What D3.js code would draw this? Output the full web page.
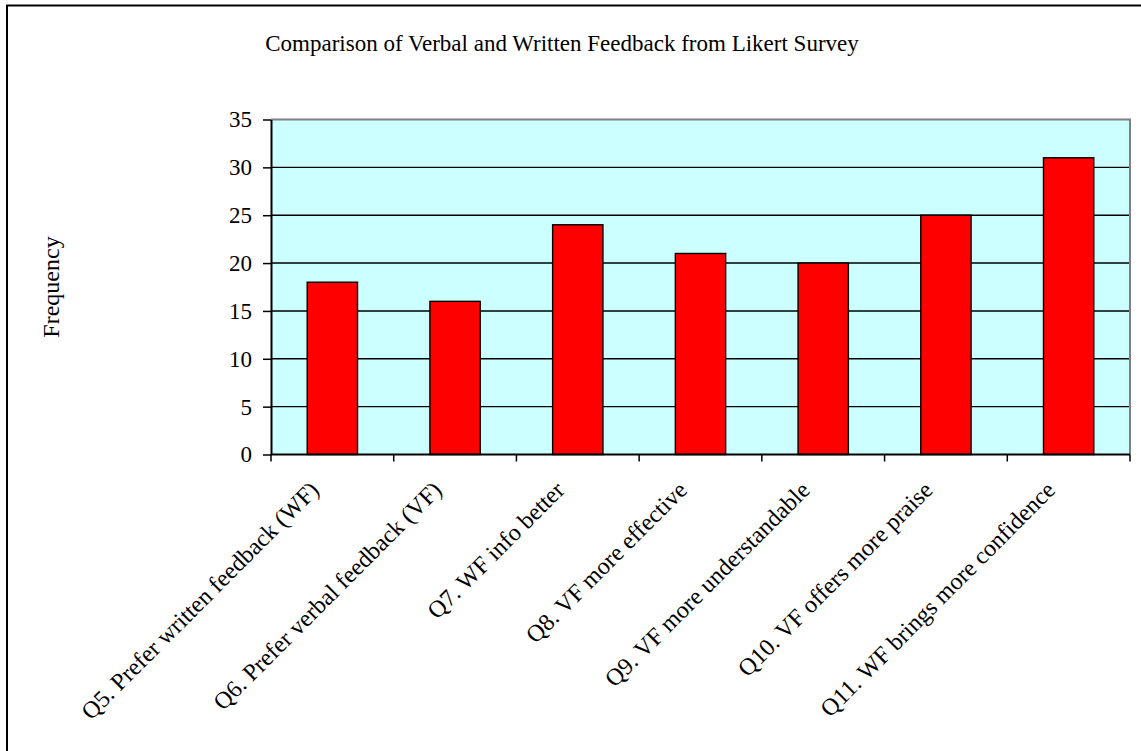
<!DOCTYPE html>
<html>
<head>
<meta charset="utf-8">
<script src="https://cdn.jsdelivr.net/npm/d3@7"></script>
<style>
  html, body { margin: 0; padding: 0; background: #fff; }
  svg { display: block; }
  text { font-family: "Liberation Serif", "Times New Roman", serif; fill: #000; }
</style>
</head>
<body>
<svg id="chart" width="1141" height="751"></svg>
<script>
// Survey questions and response counts
const categories = [
  "Q5. Prefer written feedback (WF)",
  "Q6. Prefer verbal feedback (VF)",
  "Q7. WF info better",
  "Q8. VF more effective",
  "Q9. VF more understandable",
  "Q10. VF offers more praise",
  "Q11. WF brings more confidence"
];
const frequencies = [18, 16, 24, 21, 20, 25, 31];
const yTicks = [0, 5, 10, 15, 20, 25, 30, 35];
const chartTitle = "Comparison of Verbal and Written Feedback from Likert Survey";
const yTitle = "Frequency";

const svg = d3.select("#chart");
const W = 1141, H = 751;
const plot = { left: 271, right: 1130, top: 119.5, bottom: 454.5 };

// outer frame (left and top edges visible)
svg.append("rect")
  .attr("x", 7).attr("y", 5.5)
  .attr("width", W + 20).attr("height", H + 20)
  .attr("fill", "#fff").attr("stroke", "#000").attr("stroke-width", 2);

const x = d3.scaleBand().domain(categories).range([plot.left, plot.right]).padding(0);
const y = d3.scaleLinear().domain([0, 35]).range([plot.bottom, plot.top]);

// plot background
svg.append("rect")
  .attr("x", plot.left).attr("y", plot.top)
  .attr("width", plot.right - plot.left).attr("height", plot.bottom - plot.top)
  .attr("fill", "#CCFFFF");

// horizontal gridlines
svg.append("g").selectAll("line")
  .data(yTicks.filter(v => v > 0 && v < 35))
  .join("line")
  .attr("x1", plot.left).attr("x2", plot.right)
  .attr("y1", d => y(d)).attr("y2", d => y(d))
  .attr("stroke", "#000").attr("stroke-width", 1.4);

// plot border (top and right) in grey
svg.append("path")
  .attr("d", `M${plot.left},${plot.top}H${plot.right}V${plot.bottom}`)
  .attr("fill", "none").attr("stroke", "#808080").attr("stroke-width", 2);

// bars
const barFrac = 0.41;
svg.append("g").selectAll("rect")
  .data(categories.map((c, i) => ({ c, v: frequencies[i] })))
  .join("rect")
  .attr("x", d => x(d.c) + x.bandwidth() * (1 - barFrac) / 2)
  .attr("width", x.bandwidth() * barFrac)
  .attr("y", d => y(d.v))
  .attr("height", d => y(0) - y(d.v))
  .attr("fill", "#FF0000")
  .attr("stroke", "#000").attr("stroke-width", 1.4);

// y axis
const yAxis = svg.append("g")
  .attr("transform", `translate(${plot.left},0)`)
  .call(d3.axisLeft(y).tickValues(yTicks).tickSize(8).tickPadding(11).tickSizeOuter(0));
yAxis.select(".domain").attr("stroke", "#000").attr("stroke-width", 2);
yAxis.selectAll(".tick line").attr("stroke", "#000").attr("stroke-width", 1.5);
yAxis.selectAll(".tick text")
  .attr("font-size", 23)
  .attr("font-family", "Liberation Serif, serif");

// x axis: line with ticks at category boundaries
const xAxisG = svg.append("g");
xAxisG.append("line")
  .attr("x1", plot.left).attr("x2", plot.right)
  .attr("y1", plot.bottom).attr("y2", plot.bottom)
  .attr("stroke", "#000").attr("stroke-width", 2);
const bounds = categories.map(c => x(c)).concat([plot.right]);
xAxisG.selectAll("line.tk")
  .data(bounds)
  .join("line").attr("class", "tk")
  .attr("x1", d => d).attr("x2", d => d)
  .attr("y1", plot.bottom).attr("y2", plot.bottom + 7)
  .attr("stroke", "#000").attr("stroke-width", 1.5);

// rotated category labels
xAxisG.selectAll("text.lbl")
  .data(categories)
  .join("text").attr("class", "lbl")
  .attr("transform", d => `translate(${x(d) + x.bandwidth() / 2 - 12},${plot.bottom + 37}) rotate(-45)`)
  .attr("text-anchor", "end")
  .attr("font-size", 24)
  .text(d => d);

// chart title
svg.append("text")
  .attr("x", 562).attr("y", 51)
  .attr("text-anchor", "middle")
  .attr("font-size", 23)
  .text(chartTitle);

// y axis title
svg.append("text")
  .attr("transform", `translate(59,287) rotate(-90)`)
  .attr("text-anchor", "middle")
  .attr("font-size", 24)
  .text(yTitle);
</script>
</body>
</html>
